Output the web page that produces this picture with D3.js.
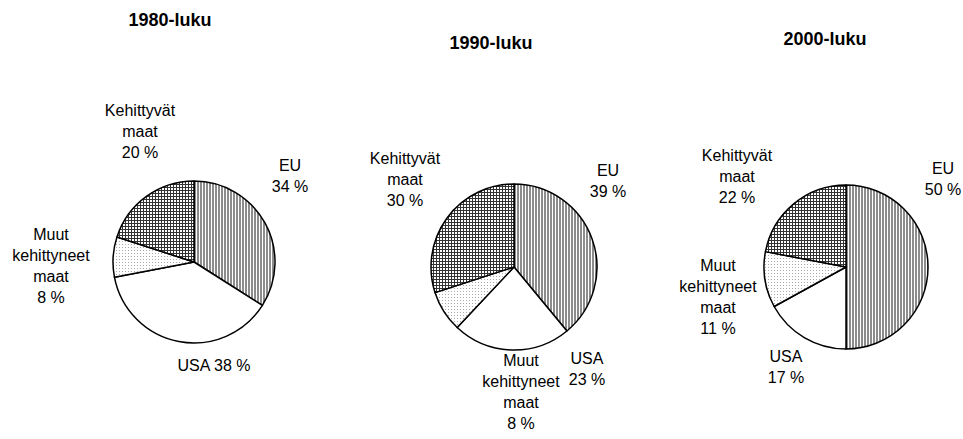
<!DOCTYPE html>
<html>
<head>
<meta charset="utf-8">
<script src="https://cdn.jsdelivr.net/npm/d3@7"></script>
<style>
  body { margin: 0; background: #fff; }
  text { font-family: "Liberation Sans", Arial, sans-serif; fill: #000; }
</style>
</head>
<body>
<svg id="chart" width="963" height="439"></svg>
<script>
// Slices go clockwise from 12 o'clock
const regions = ['EU', 'USA', 'Muut kehittyneet maat', 'Kehittyvät maat'];
const decades = ['1980-luku', '1990-luku', '2000-luku'];
const shares1980 = [34, 38, 8, 20];
const shares1990 = [39, 23, 8, 30];
const shares2000 = [50, 17, 11, 22];
const allShares = [shares1980, shares1990, shares2000];

// Label text lines per decade, in the same order as regions
const labelLines = [
  [['EU', '34 %'], ['USA 38 %'], ['Muut', 'kehittyneet', 'maat', '8 %'], ['Kehittyvät', 'maat', '20 %']],
  [['EU', '39 %'], ['USA', '23 %'], ['Muut', 'kehittyneet', 'maat', '8 %'], ['Kehittyvät', 'maat', '30 %']],
  [['EU', '50 %'], ['USA', '17 %'], ['Muut', 'kehittyneet', 'maat', '11 %'], ['Kehittyvät', 'maat', '22 %']]
];

// layout (first-line baseline positions of each label)
const panels = [
  {cx: 194, cy: 262, r: 81, titleX: 170, titleY: 26,
   labels: [[290, 171], [214, 371], [51, 240], [140, 116]]},
  {cx: 514, cy: 267, r: 83, titleX: 491, titleY: 49,
   labels: [[608, 176], [587, 364], [521, 366], [405, 164]]},
  {cx: 846, cy: 267, r: 82, titleX: 825, titleY: 45,
   labels: [[943, 174], [786, 362], [718, 271], [737, 161]]}
];
const lineStep = 21;

const svg = d3.select('#chart');
const defs = svg.append('defs');

// fill patterns
let p = defs.append('pattern').attr('id', 'pat-eu').attr('patternUnits', 'userSpaceOnUse')
  .attr('width', 3).attr('height', 3);
p.append('rect').attr('width', 3).attr('height', 3).attr('fill', '#fff');
p.append('rect').attr('width', 2).attr('height', 3).attr('fill', '#8c8c8c');

p = defs.append('pattern').attr('id', 'pat-muut').attr('patternUnits', 'userSpaceOnUse')
  .attr('width', 3).attr('height', 3);
p.append('rect').attr('width', 3).attr('height', 3).attr('fill', '#fff');
p.append('rect').attr('width', 1).attr('height', 1).attr('fill', '#aaa');

p = defs.append('pattern').attr('id', 'pat-keh').attr('patternUnits', 'userSpaceOnUse')
  .attr('width', 3).attr('height', 3);
p.append('rect').attr('width', 3).attr('height', 3).attr('fill', '#fff');
p.append('rect').attr('width', 3).attr('height', 1).attr('fill', '#333');
p.append('rect').attr('width', 1).attr('height', 3).attr('fill', '#333');

const fills = ['url(#pat-eu)', '#fff', 'url(#pat-muut)', 'url(#pat-keh)'];

const pie = d3.pie().sort(null).value(d => d);

panels.forEach((cfg, i) => {
  const g = svg.append('g').attr('transform', `translate(${cfg.cx},${cfg.cy})`);
  const arc = d3.arc().innerRadius(0).outerRadius(cfg.r);

  g.selectAll('path')
    .data(pie(allShares[i]))
    .enter().append('path')
    .attr('d', arc)
    .attr('fill', (d, j) => fills[j])
    .attr('stroke', '#000')
    .attr('stroke-width', 1.5)
    .attr('stroke-linejoin', 'round');

  svg.append('text')
    .attr('x', cfg.titleX).attr('y', cfg.titleY)
    .attr('text-anchor', 'middle')
    .style('font-size', '18px').style('font-weight', 'bold')
    .text(decades[i]);

  labelLines[i].forEach((lines, j) => {
    const t = svg.append('text')
      .attr('text-anchor', 'middle')
      .style('font-size', '16px');
    lines.forEach((ln, k) => {
      t.append('tspan')
        .attr('x', cfg.labels[j][0])
        .attr('y', cfg.labels[j][1] + k * lineStep)
        .text(ln);
    });
  });
});
</script>
</body>
</html>
